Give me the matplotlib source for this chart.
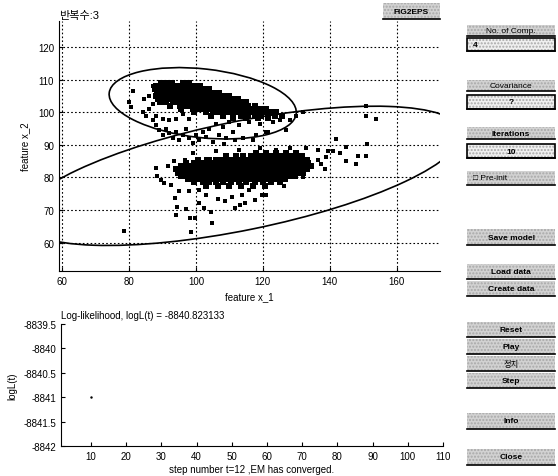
import numpy as np
import matplotlib.pyplot as plt
from matplotlib.patches import Ellipse, Rectangle

plt.rcParams['font.family'] = ['Liberation Sans', 'Noto Sans CJK KR', 'DejaVu Sans']
plt.rcParams['font.size'] = 7

# ---- data ----
# dense cores, row by row (y value, then the x values on that row)
core1_y = [109, 108, 107, 106, 105, 104, 103, 102, 101, 100, 99, 98.2]
core1_x = [[89.5, 91.2, 92.8, 96.2, 98.0],
           [88.0, 89.7, 91.4, 93.1, 94.8, 96.5, 98.2, 99.9, 101.3],
           [87.6, 89.3, 91.0, 92.7, 94.4, 96.1, 97.8, 99.5, 101.2, 102.9, 104.0],
           [88.2, 89.9, 91.6, 93.3, 95.0, 96.7, 98.4, 100.1, 101.8, 103.5, 105.2, 106.8],
           [88.0, 89.7, 91.4, 93.1, 94.8, 96.5, 98.2, 99.9, 101.6, 103.3, 105.0, 106.7, 108.4, 110.0],
           [88.6, 90.3, 92.0, 93.7, 95.4, 97.1, 98.8, 100.5, 102.2, 103.9, 105.6, 107.3, 109.0, 110.7, 112.6],
           [89.2, 90.9, 93.0, 94.7, 96.4, 98.1, 99.8, 101.5, 103.2, 104.9, 106.6, 108.3, 110.0, 111.7, 113.4, 115.0],
           [92.2, 95.2, 96.9, 98.6, 100.3, 102.0, 103.7, 105.4, 107.1, 108.8, 110.5, 112.2, 113.9, 115.6, 117.5],
           [95.5, 99.0, 100.7, 102.4, 104.1, 105.8, 107.5, 109.2, 110.9, 112.6, 114.3, 116.0, 117.7, 119.4, 121.0],
           [99.5, 103.0, 105.2, 106.9, 108.6, 110.3, 112.0, 113.7, 115.4, 117.1, 118.8, 120.5, 122.2, 124.0],
           [104.5, 108.0, 111.0, 113.5, 115.5, 117.5, 119.5, 121.5, 123.5, 125.8],
           [111.0, 115.0, 118.5, 121.5]]

core2_y = [87.5, 86.5, 85.5, 84.5, 83.5, 82.5, 81.5, 80.5, 79.5, 78.5, 77.5]
core2_x = [[118, 121, 124, 127, 130],
           [109, 112, 114, 116.5, 118.2, 119.9, 121.6, 123.3, 125, 126.7, 128.4, 130.1, 131.8],
           [100.5, 104, 106, 107.8, 109.5, 111.2, 112.9, 114.6, 116.3, 118, 119.7, 121.4, 123.1, 124.8,
            126.5, 128.2, 129.9, 131.6, 133.3],
           [97, 99.4, 101.1, 102.8, 104.5, 106.2, 107.9, 109.6, 111.3, 113, 114.7, 116.4, 118.1, 119.8,
            121.5, 123.2, 124.9, 126.6, 128.3, 130, 131.7, 133.6],
           [95.5, 97.2, 98.9, 100.6, 102.3, 104, 105.7, 107.4, 109.1, 110.8, 112.5, 114.2, 115.9, 117.6,
            119.3, 121, 122.7, 124.4, 126.1, 127.8, 129.5, 131.2, 133, 134.5],
           [94, 95.7, 97.4, 99.1, 100.8, 102.5, 104.2, 105.9, 107.6, 109.3, 111, 112.7, 114.4, 116.1,
            117.8, 119.5, 121.2, 122.9, 124.6, 126.3, 128, 129.7, 131.4, 133.2],
           [94.5, 96.2, 97.9, 99.6, 101.3, 103, 104.7, 106.4, 108.1, 109.8, 111.5, 113.2, 114.9, 116.6,
            118.3, 120, 121.7, 123.4, 125.1, 126.8, 128.5, 130.2, 132],
           [95.5, 97.2, 98.9, 100.6, 102.3, 104, 105.7, 107.4, 109.1, 110.8, 112.5, 114.2, 115.9, 117.6,
            119.3, 121, 122.7, 124.4, 126.1, 127.8, 129.6],
           [97.5, 99.2, 100.9, 102.6, 104.3, 106, 107.7, 109.4, 111.1, 112.8, 114.5, 116.2, 117.9, 119.6,
            121.3, 123, 124.7, 126.5],
           [99.5, 102, 104, 106, 108, 110.5, 113, 115, 117.5, 120, 122.5, 125],
           [103, 106.5, 110, 113.5, 117, 120.5]]

# loose points
pts_x = [80, 80.5, 81, 84.5, 84, 85, 86, 87, 88, 89, 90, 91, 92, 93, 94, 95, 96, 97, 98, 99,
         100, 101, 102, 103, 104, 105, 106, 107, 108, 109, 110, 111, 113, 114, 116, 117, 118, 119,
         121, 123, 125, 127, 128, 130, 132, 88, 90, 92, 94, 96, 98, 86, 87, 87, 121.6,
         151, 151, 153.8, 142, 151.3, 145, 148.4, 150.8, 145, 148, 136.4, 139.5, 141, 143, 138.9,
         136.5, 137.5, 138.5, 131.9, 126.4, 121,
         87.9, 88.4, 89.4, 91.7, 93.4, 96.8, 103, 90.4, 92.4, 94.9, 93.7, 94.4, 94.1, 97, 98.3,
         99.6, 98.5, 104.9, 78.3, 97.8, 100.8, 102.3, 104.6, 106.5, 108.7, 110.7, 113.7, 114.7,
         117.6, 119.6, 111.7, 113.2, 103, 101, 116, 108.5, 111.7, 99, 106, 113, 119, 124, 128, 133]
pts_y = [103, 101.5, 106.5, 104, 100, 99, 101, 97.5, 96, 94.5, 93, 95, 93.5, 92, 94, 91.5, 93, 95, 92, 90.5,
         93, 91.5, 94, 92.5, 95, 91, 96.5, 93, 95.5, 92, 97, 94, 96, 92, 97, 91.5, 93, 96.5,
         94, 97, 97.5, 94.5, 97.5, 99, 100, 99, 98, 97.5, 98, 99.5, 98, 105, 108, 102.5, 94,
         102, 98.8, 98, 91.8, 90.3, 89.4, 86.7, 86.7, 85, 84, 88.3, 88, 88.2, 87.6, 86.4,
         85.5, 84, 82.5, 80, 77.3, 74.6,
         82.8, 80.3, 79.3, 83.4, 84.9, 85.4, 85.7, 78.3, 77.8, 75.9, 73.7, 70.9, 68.6, 70.2, 67.6,
         67.6, 63.2, 66.1, 63.6, 75.9, 72.2, 70.7, 69.4, 73.4, 72.7, 73.9, 74.7, 72.2,
         73.2, 74.7, 70.7, 71.7, 74.5, 76, 76, 90.2, 91.5, 87.5, 88, 88.5, 89, 88.5, 89, 89]

# fitted gaussian components (mean, covariance), drawn at 2 sigma
means = [(102, 102.75), (113.5, 80.5)]
covs = [[[196, -19.25], [-19.25, 30]],
        [[1089, 213.4], [213.4, 114.1]]]

iter_no = 3
loglik_final = -8840.823133
steps = [10]
loglik = [-8841.0]
ll_ticks = [-8842, -8841.5, -8841, -8840.5, -8840, -8839.5]
ll_labels = ['-8842', '-8841.5', '-8841', '-8840.5', '-8840', '-8839.5']

W, H = 558, 477
fig = plt.figure(figsize=(W / 100, H / 100), dpi=100)

# ---- scatter + ellipses ----
ax = fig.add_axes([59 / W, 1 - 272 / H, 381 / W, 250 / H])
for yy, xs in zip(core1_y, core1_x):
    ax.scatter(xs, [yy] * len(xs), marker='s', s=13, color='black', linewidths=0)
for yy, xs in zip(core2_y, core2_x):
    ax.scatter(xs, [yy] * len(xs), marker='s', s=13, color='black', linewidths=0)
ax.scatter(pts_x, pts_y, marker='s', s=7, color='black', linewidths=0)

for m, c in zip(means, covs):
    vals, vecs = np.linalg.eigh(np.array(c))
    ang = np.degrees(np.arctan2(vecs[1, 1], vecs[0, 1]))
    ax.add_patch(Ellipse(m, 4 * np.sqrt(vals[1]), 4 * np.sqrt(vals[0]), angle=ang,
                         fill=False, color='black', lw=1.2))

ax.set_xlim(59, 173)
ax.set_ylim(51.3, 128)
ax.set_xticks([60, 80, 100, 120, 140, 160])
ax.set_yticks([60, 70, 80, 90, 100, 110, 120])
ax.grid(True, linestyle=(0, (1.5, 2)), color='black', lw=0.8)
ax.tick_params(direction='in', length=3, labelsize=7)
ax.spines['top'].set_visible(False)
ax.spines['right'].set_visible(False)
ax.set_xlabel('feature x_1', fontsize=7, labelpad=4)
ax.set_ylabel('feature x_2', fontsize=7, labelpad=6)
ax.set_title('반복수:%d' % iter_no, loc='left', fontsize=8, pad=2)

# ---- log-likelihood ----
ax2 = fig.add_axes([61 / W, 1 - 447 / H, 382 / W, 122 / H])
ax2.plot(steps, loglik, '.', color='black', ms=1.5)
ax2.set_xlim(1.5, 110)
ax2.set_ylim(-8842, -8839.5)
ax2.set_xticks(range(10, 111, 10))
ax2.set_yticks(ll_ticks)
ax2.set_yticklabels(ll_labels)
ax2.tick_params(direction='in', length=3, labelsize=7)
ax2.spines['top'].set_visible(False)
ax2.spines['right'].set_visible(False)
ax2.set_xlabel('step number t=12 ,EM has converged.', fontsize=7, labelpad=2)
ax2.set_ylabel('logL(t)', fontsize=7, labelpad=4)
ax2.text(0.0, 1.03, 'Log-likelihood, logL(t) = %.6f' % loglik_final,
         transform=ax2.transAxes, fontsize=7, va='bottom', ha='left')


# ---- GUI controls on the right ----
def button(x0, y0, x1, y1, label, edit=False, align='center', bold=True):
    r = Rectangle((x0 / W, 1 - y1 / H), (x1 - x0) / W, (y1 - y0) / H, transform=fig.transFigure,
                  facecolor='#f0f0f0' if edit else '#d2d2d2', hatch='.....',
                  edgecolor='#a8a8a8', lw=0)
    fig.patches.append(r)
    fig.add_artist(plt.Line2D([x0 / W, x1 / W], [1 - y1 / H, 1 - y1 / H], color='black', lw=1.2))
    if edit:
        fig.patches.append(Rectangle((x0 / W, 1 - y1 / H), (x1 - x0) / W, (y1 - y0) / H,
                                     transform=fig.transFigure, fill=False, edgecolor='black', lw=1.2))
    tx = (x0 + 6) / W if align == 'left' else (x0 + x1) / 2 / W
    fig.text(tx, 1 - (y0 + y1) / 2 / H, label, ha=align, va='center', fontsize=6,
             fontweight='bold' if bold else 'normal', color='black')


button(383, 4, 440, 20, 'FIG2EPS')
button(467, 26, 555, 37, 'No. of Comp.', bold=False)
button(467, 39, 555, 52, '4', edit=True, align='left')
button(467, 81, 555, 92, 'Covariance', bold=False)
button(467, 96, 555, 110, '?', edit=True)
button(467, 128, 555, 140, 'Iterations')
button(467, 145, 555, 159, '10', edit=True)
button(467, 172, 555, 186, '\u25a1 Pre-init', align='left', bold=False)
button(467, 230, 555, 246, 'Save model')
button(467, 265, 555, 280, 'Load data')
button(467, 282, 555, 297, 'Create data')
button(467, 323, 555, 338, 'Reset')
button(467, 340, 555, 355, 'Play')
button(467, 357, 555, 372, '정지', bold=False)
button(467, 374, 555, 389, 'Step')
button(467, 414, 555, 430, 'Info')
button(467, 450, 555, 466, 'Close')

fig.savefig('out.png', dpi=100)
